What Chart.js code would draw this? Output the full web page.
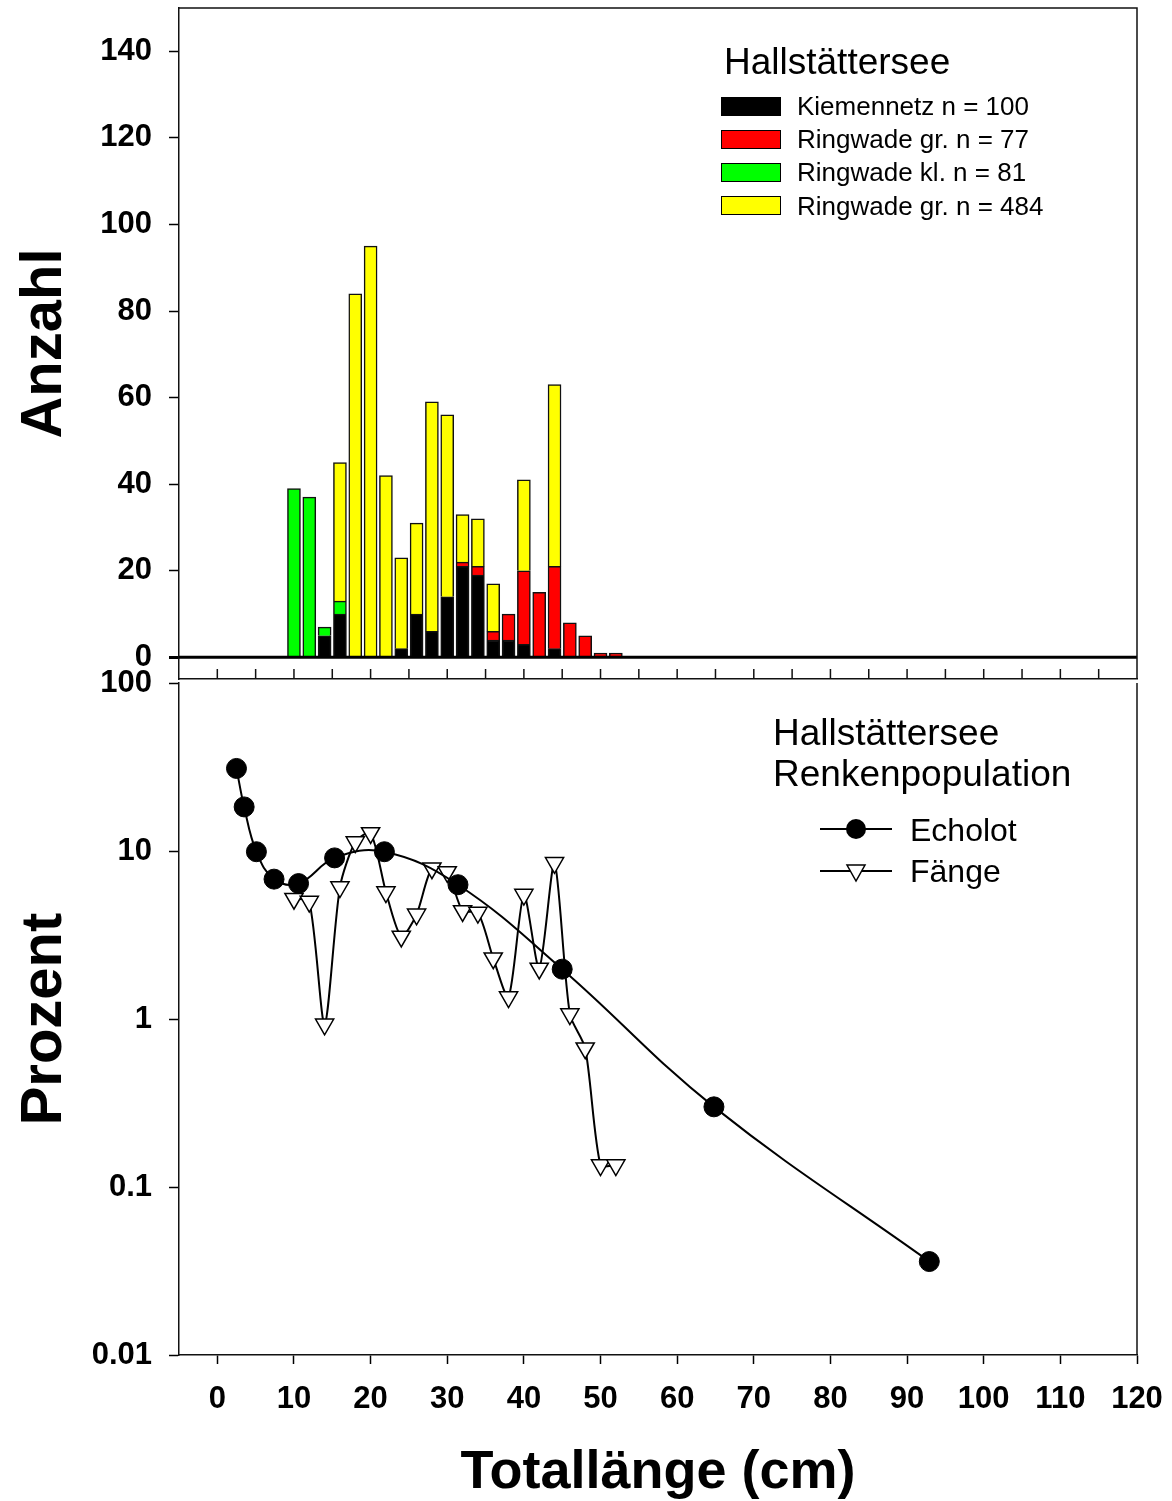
<!DOCTYPE html>
<html lang="de">
<head>
    <meta charset="UTF-8">
    <title>Hallstättersee – Renkenpopulation</title>
    <script src="https://cdn.jsdelivr.net/npm/chart.js"></script>
    <style>
        body { margin: 0; background: #fff; font-family: "Liberation Sans", Arial, sans-serif; color: #000; }
        #page { position: relative; width: 1172px; height: 1501px; overflow: hidden; }
        #topChart { position: absolute; left: 0; top: 0; }
        #bottomChart { position: absolute; left: 0; top: 640px; }
        .lg { position: absolute; white-space: nowrap; }
        .head { font-size: 37px; line-height: 37px; }
        .entry { font-size: 26px; line-height: 26px; }
        .entry2 { font-size: 32px; line-height: 32px; }
        .swatch { position: absolute; width: 60px; height: 19px; box-sizing: border-box; border: 1px solid #000; }
        #markers { position: absolute; left: 0; top: 0; }
    </style>
</head>
<body>
<div id="page">
    <canvas id="topChart" width="1172" height="680"></canvas>
    <canvas id="bottomChart" width="1172" height="861"></canvas>

    <!-- legend, upper panel -->
    <div class="lg head" style="left:724px; top:43px;">Hallstättersee</div>
    <div id="barLegend"></div>

    <!-- legend, lower panel -->
    <div class="lg head" style="left:773px; top:714px;">Hallstättersee</div>
    <div class="lg head" style="left:773px; top:755px;">Renkenpopulation</div>
    <svg id="markers" width="1172" height="1501">
        <line x1="820" y1="829" x2="892" y2="829" stroke="#000" stroke-width="2"/>
        <circle cx="856" cy="829" r="10" fill="#000"/>
        <line x1="820" y1="871" x2="892" y2="871" stroke="#000" stroke-width="2"/>
        <polygon points="847,865 865,865 856,881" fill="#fff" stroke="#000" stroke-width="1.5"/>
    </svg>
    <div class="lg entry2" style="left:910px; top:814px;">Echolot</div>
    <div class="lg entry2" style="left:910px; top:855px;">Fänge</div>
</div>

<script>
    // Length classes (cm) used by the catch bars and the "Fänge" curve
    const lengthBins = [10, 12, 14, 16, 18, 20, 22, 24, 26, 28, 30, 32, 34, 36, 38, 40, 42, 44, 46, 48, 50, 52];

    // Catch counts per gear (stacked bars, bottom to top)
    const kiemennetz    = [0, 0, 5, 10, 0, 0, 0, 2, 10, 6, 14, 21, 19, 4, 4, 3, 0, 2, 0, 0, 0, 0];
    const ringwadeGr77  = [0, 0, 0, 0, 0, 0, 0, 0, 0, 0, 0, 1, 2, 2, 6, 17, 15, 19, 8, 5, 1, 1];
    const ringwadeKl    = [39, 37, 2, 3, 0, 0, 0, 0, 0, 0, 0, 0, 0, 0, 0, 0, 0, 0, 0, 0, 0, 0];
    const ringwadeGr484 = [0, 0, 0, 32, 84, 95, 42, 21, 21, 53, 42, 11, 11, 11, 0, 21, 0, 42, 0, 0, 0, 0];

    const barLabels = ['Kiemennetz n = 100', 'Ringwade gr. n = 77', 'Ringwade kl. n = 81', 'Ringwade gr. n = 484'];
    const barColors = ['#000000', '#ff0000', '#00ff00', '#ffff00'];

    // Percent of catch per length class
    const faengeProzent = [5.2, 5.0, 0.93, 6.1, 11.3, 12.8, 5.7, 3.1, 4.2, 7.9, 7.5, 4.4, 4.3, 2.3, 1.35, 5.5, 2.0, 8.5, 1.07, 0.67, 0.135, 0.135];

    // Echosounder (Echolot) size distribution
    const echolotLaenge  = [2.5, 3.5, 5.1, 7.4, 10.6, 15.3, 21.8, 31.4, 45.0, 64.8, 92.9];
    const echolotProzent = [31, 18.3, 9.9, 6.8, 6.4, 9.1, 9.9, 6.3, 1.98, 0.30, 0.036];

    // Tick values
    const anzahlTicks  = [0, 20, 40, 60, 80, 100, 120, 140];
    const prozentTicks = [0.01, 0.1, 1, 10, 100];
    const laengeTicks  = [0, 10, 20, 30, 40, 50, 60, 70, 80, 90, 100, 110, 120];

    const FONT = '"Liberation Sans", Arial, sans-serif';
    const tickFont = { family: FONT, size: 31, weight: 'bold' };
    const titleFont = { family: FONT, size: 58, weight: 'bold', lineHeight: 1.2 };
    const AXIS = '#111';

    // upper legend boxes + labels
    const legendBox = document.getElementById('barLegend');
    barLabels.forEach((label, i) => {
        const cy = 106 + i * 33.2;
        const sw = document.createElement('div');
        sw.className = 'swatch';
        sw.style.left = '721px';
        sw.style.top = (cy - 9.5) + 'px';
        sw.style.background = barColors[i];
        legendBox.appendChild(sw);
        const tx = document.createElement('div');
        tx.className = 'lg entry';
        tx.style.left = '797px';
        tx.style.top = (cy - 13) + 'px';
        tx.textContent = label;
        legendBox.appendChild(tx);
    });

    function toPoints(values) {
        return lengthBins.map((x, i) => ({ x: x, y: values[i] })).filter(p => p.y > 0);
    }

    function fixedWidth(w) {
        return scale => { scale.width = w; scale.paddingTop = 0; scale.paddingBottom = 0; };
    }
    function fixedHeight(h) {
        return scale => { scale.height = h; scale.paddingLeft = 0; scale.paddingRight = 0; };
    }

    // Frame, zero line and inward ticks for the bar panel
    const topFrame = {
        id: 'topFrame',
        afterDatasetsDraw(chart) {
            const { ctx, chartArea: a, scales: { x, y } } = chart;
            ctx.save();
            ctx.strokeStyle = '#000';
            ctx.lineWidth = 3;
            const y0 = y.getPixelForValue(0);
            ctx.beginPath();
            ctx.moveTo(a.left, y0);
            ctx.lineTo(a.right, y0);
            ctx.stroke();

            ctx.strokeStyle = AXIS;
            ctx.lineWidth = 1.5;
            ctx.beginPath();
            ctx.moveTo(a.left, a.top);
            ctx.lineTo(a.right, a.top);
            ctx.lineTo(a.right, a.bottom);
            for (let v = 0; v <= 115; v += 5) {
                const px = x.getPixelForValue(v);
                ctx.moveTo(px, a.bottom);
                ctx.lineTo(px, a.bottom - 10);
            }
            ctx.stroke();
            ctx.restore();
        }
    };

    const rightBorder = {
        id: 'rightBorder',
        afterDraw(chart) {
            const { ctx, chartArea: a } = chart;
            ctx.save();
            ctx.strokeStyle = AXIS;
            ctx.lineWidth = 1.5;
            ctx.beginPath();
            ctx.moveTo(a.right, a.top);
            ctx.lineTo(a.right, a.bottom);
            ctx.stroke();
            ctx.restore();
        }
    };

    // Upper panel: stacked length-frequency bars
    new Chart(document.getElementById('topChart'), {
        type: 'bar',
        data: {
            datasets: [kiemennetz, ringwadeGr77, ringwadeKl, ringwadeGr484].map((vals, i) => ({
                label: barLabels[i],
                data: toPoints(vals),
                backgroundColor: barColors[i],
                borderColor: '#111',
                borderWidth: 1.5,
                barThickness: 13
            }))
        },
        plugins: [topFrame],
        options: {
            responsive: false,
            animation: false,
            layout: { padding: { left: 0, right: 35, top: 8, bottom: 1 } },
            plugins: { legend: { display: false }, tooltip: { enabled: false } },
            scales: {
                x: {
                    type: 'linear',
                    stacked: true,
                    offset: false,
                    min: -5,
                    max: 120,
                    grid: { display: false, offset: false },
                    ticks: { display: false },
                    border: { display: true, color: AXIS, width: 1.5 },
                    afterFit: fixedHeight(0)
                },
                y: {
                    type: 'linear',
                    stacked: true,
                    min: -5,
                    max: 150,
                    afterBuildTicks: scale => { scale.ticks = anzahlTicks.map(v => ({ value: v })); },
                    ticks: { font: tickFont, color: '#000', padding: 17 },
                    grid: {
                        drawOnChartArea: false,
                        tickLength: 10,
                        tickColor: '#000',
                        tickWidth: ctx => (ctx.tick && ctx.tick.value === 0 ? 3 : 1.5)
                    },
                    border: { display: true, color: AXIS, width: 1.5 },
                    title: { display: true, text: 'Anzahl', font: titleFont, color: '#000', padding: { top: 10, bottom: 0 } },
                    afterFit: fixedWidth(179)
                }
            }
        }
    });

    // Lower panel: percentage distribution on log scale
    new Chart(document.getElementById('bottomChart'), {
        type: 'line',
        data: {
            datasets: [
                {
                    label: 'Echolot',
                    data: echolotLaenge.map((x, i) => ({ x: x, y: echolotProzent[i] })),
                    borderColor: '#000',
                    borderWidth: 2,
                    tension: 0.4,
                    pointRadius: 10,
                    pointBackgroundColor: '#000',
                    pointBorderColor: '#000',
                    pointBorderWidth: 1
                },
                {
                    label: 'Fänge',
                    data: lengthBins.map((x, i) => ({ x: x, y: faengeProzent[i] })),
                    borderColor: '#000',
                    borderWidth: 2,
                    tension: 0.25,
                    pointStyle: 'triangle',
                    rotation: 180,
                    pointRadius: 10.5,
                    pointBackgroundColor: '#fff',
                    pointBorderColor: '#000',
                    pointBorderWidth: 1.5
                }
            ]
        },
        plugins: [rightBorder],
        options: {
            responsive: false,
            animation: false,
            layout: { padding: { left: 0, right: 35, top: 43, bottom: 0 } },
            plugins: { legend: { display: false }, tooltip: { enabled: false } },
            scales: {
                x: {
                    type: 'linear',
                    min: -5,
                    max: 120,
                    afterBuildTicks: scale => { scale.ticks = laengeTicks.map(v => ({ value: v })); },
                    ticks: { font: tickFont, color: '#000', padding: 17, maxRotation: 0 },
                    grid: { drawOnChartArea: false, tickLength: 9, tickColor: '#000', tickWidth: 1.5 },
                    border: { display: true, color: AXIS, width: 1.5 },
                    title: {
                        display: true,
                        text: 'Totallänge (cm)',
                        font: { family: FONT, size: 54, weight: 'bold', lineHeight: 1 },
                        color: '#000',
                        padding: { top: 0, bottom: 1 }
                    },
                    afterFit: fixedHeight(146)
                },
                y: {
                    type: 'logarithmic',
                    min: 0.01,
                    max: 100,
                    afterBuildTicks: scale => { scale.ticks = prozentTicks.map(v => ({ value: v, major: true })); },
                    ticks: { font: tickFont, color: '#000', padding: 17, callback: v => String(v) },
                    grid: { drawOnChartArea: false, tickLength: 10, tickColor: '#000', tickWidth: 1.5 },
                    border: { display: true, color: AXIS, width: 1.5 },
                    title: { display: true, text: 'Prozent', font: titleFont, color: '#000', padding: { top: 10, bottom: 0 } },
                    afterFit: fixedWidth(179)
                }
            }
        }
    });
</script>
</body>
</html>
